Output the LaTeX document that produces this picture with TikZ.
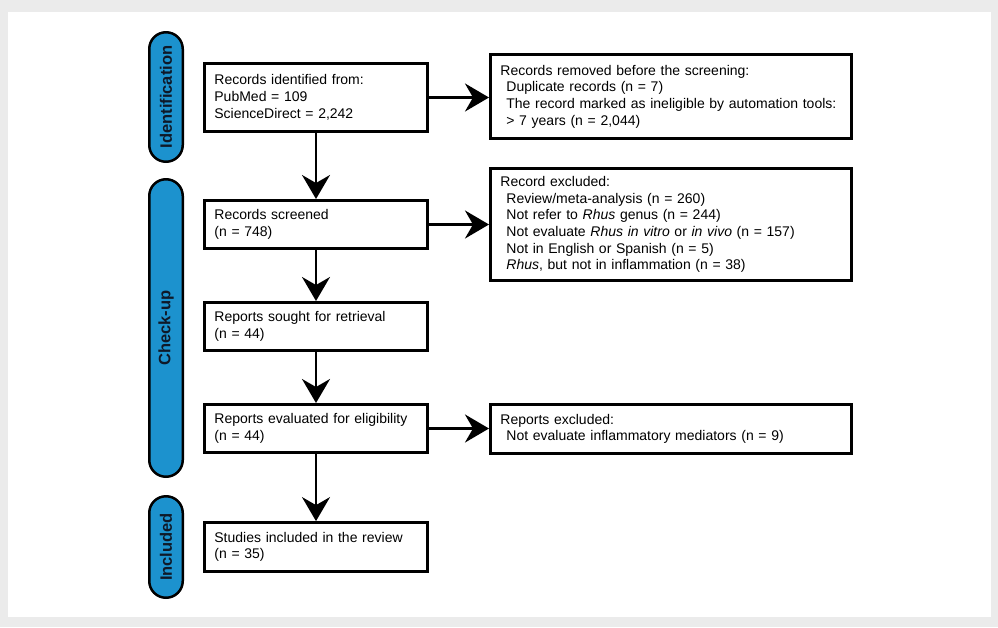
\documentclass[tikz,border=0pt]{standalone}
\usepackage{fontspec}
\setmainfont{Liberation Sans}
\usetikzlibrary{arrows.meta}
\definecolor{stageblue}{RGB}{28,146,206}
\definecolor{stagetext}{RGB}{15,25,40}
\definecolor{framegray}{RGB}{235,235,235}

\begin{document}
\begin{tikzpicture}[x=1pt,y=-1pt,
    box/.style={draw,rectangle,line width=2.8pt,inner xsep=10pt,inner ysep=0pt,align=left,
      font=\fontsize{14}{16.7}\selectfont},
    narrowbox/.style={box,minimum width=223.2pt,text width=203.2pt},
    widebox/.style={box,minimum width=361.2pt,text width=341.2pt},
    stage/.style={draw,line width=2.5pt,fill=stageblue,rounded corners=16.7pt,rotate=90,
      minimum height=33.5pt,inner sep=0pt,text=stagetext,
      font=\fontsize{16.5}{18}\selectfont\bfseries},
    flow/.style={line width=2.5pt,-{Stealth[length=24pt,width=28pt,inset=8pt]}}]
      % frame
      \fill[framegray] (0,0) rectangle (998,627);
      \fill[white] (8,12) rectangle (991,617);
      % stages
      \node[stage,minimum width=129.5pt] (identification) at (166,97) {Identification};
      \node[stage,minimum width=297.5pt] (checkup) at (166,328) {Check-up};
      \node[stage,minimum width=101.5pt] (included) at (166,547) {Included};
      % main column
      \node[narrowbox,minimum height=68.2pt] (identified) at (316,97.5)
        {Records identified from:\\PubMed = 109\\ScienceDirect = 2,242};
      \node[narrowbox,minimum height=48.2pt] (screened) at (316,224.5)
        {Records screened\\(n = 748)};
      \node[narrowbox,minimum height=48.2pt] (sought) at (316,326.5)
        {Reports sought for retrieval\\(n = 44)};
      \node[narrowbox,minimum height=48.2pt] (evaluated) at (316,428.5)
        {Reports evaluated for eligibility\\(n = 44)};
      \node[narrowbox,minimum height=49pt] (studies) at (316,547)
        {Studies included in the review\\(n = 35)};
      % side column
      \node[widebox,minimum height=84.2pt] (removed) at (671,96.5)
        {Records removed before the screening:\\
         \hspace*{6pt}Duplicate records (n = 7)\\
         \hspace*{6pt}The record marked as ineligible by automation tools:\\
         \hspace*{6pt}> 7 years (n = 2,044)};
      \node[widebox,minimum height=112.2pt] (excluded) at (671,224.5)
        {Record excluded:\\
         \hspace*{6pt}Review/meta-analysis (n = 260)\\
         \hspace*{6pt}Not refer to \textit{Rhus} genus (n = 244)\\
         \hspace*{6pt}Not evaluate \textit{Rhus in vitro} or \textit{in vivo} (n = 157)\\
         \hspace*{6pt}Not in English or Spanish (n = 5)\\
         \hspace*{6pt}\textit{Rhus}, but not in inflammation (n = 38)};
      \node[widebox,minimum height=49pt] (notevaluated) at (671,429)
        {Reports excluded:\\
         \hspace*{6pt}Not evaluate inflammatory mediators (n = 9)};
      % arrows
      \draw[flow] (identified) -- (screened);
      \draw[flow] (screened) -- (sought);
      \draw[flow] (sought) -- (evaluated);
      \draw[flow] (evaluated) -- (studies);
      \draw[flow] (identified.east) -- (identified.east -| removed.west);
      \draw[flow] (screened.east) -- (screened.east -| excluded.west);
      \draw[flow] (evaluated.east) -- (evaluated.east -| notevaluated.west);
    \end{tikzpicture}
\end{document}
